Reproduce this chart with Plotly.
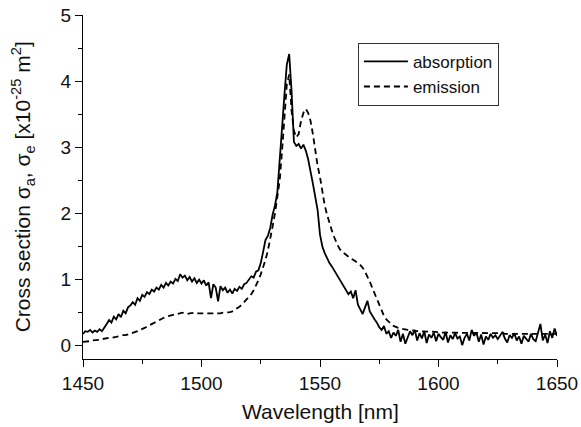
import plotly.graph_objects as go

wavelength = list(range(1450, 1651))

absorption = [
    0.18, 0.22, 0.21, 0.24, 0.20, 0.23, 0.21, 0.25, 0.22, 0.27,
    0.33, 0.39, 0.35, 0.44, 0.40, 0.48, 0.43, 0.53, 0.49, 0.58,
    0.61, 0.66, 0.62, 0.72, 0.68, 0.77, 0.74, 0.81, 0.78, 0.85,
    0.82, 0.88, 0.85, 0.92, 0.88, 0.95, 0.91, 0.97, 0.94, 1.01,
    0.98, 1.08, 1.03, 1.06, 0.99, 1.04, 0.97, 1.02, 0.95, 1.00,
    0.94, 0.99, 0.91, 0.96, 0.72, 0.93, 0.88, 0.67, 0.90, 0.84,
    0.88, 0.80, 0.85, 0.79, 0.86, 0.83, 0.89, 0.86, 0.93, 0.95,
    1.00, 1.05, 1.03, 1.12, 1.14, 1.25, 1.42, 1.60, 1.66, 1.78,
    1.98, 2.12, 2.32, 2.75, 3.30, 3.80, 4.25, 4.41, 3.85, 3.08,
    3.02, 3.05, 2.98, 3.04, 2.95, 2.82, 2.65, 2.45, 2.25, 2.05,
    1.68, 1.50, 1.40, 1.32, 1.25, 1.20, 1.14, 1.09, 1.03, 0.97,
    0.92, 0.86, 0.78, 0.82, 0.72, 0.84, 0.62, 0.55, 0.48, 0.58,
    0.68, 0.52, 0.45, 0.40, 0.35, 0.28, 0.24, 0.30, 0.18, 0.22,
    0.12, 0.20, 0.15, 0.24, 0.06, 0.18, 0.03, 0.14, 0.22, 0.16,
    0.24, 0.08, 0.19, 0.11, 0.22, 0.04, 0.17, 0.12, 0.20, 0.07,
    0.18, 0.13, 0.09, 0.21, 0.05, 0.16, 0.10, 0.19, 0.11, 0.14,
    0.01, 0.12, 0.18, 0.08, 0.24, 0.15, 0.20, 0.06, 0.17, 0.02,
    0.14, 0.09, 0.18, 0.12, 0.16, 0.10, 0.15, 0.21, 0.11, 0.05,
    0.16, 0.12, 0.19, 0.08, 0.14, 0.03, 0.15, 0.11, 0.06, 0.18,
    0.10, 0.07, 0.21, 0.33, 0.08, 0.17, 0.04, 0.22, 0.12, 0.26,
    0.15,
]

emission = [
    0.06, 0.06, 0.07, 0.07, 0.08, 0.08, 0.09, 0.09, 0.10, 0.11,
    0.11, 0.12, 0.12, 0.13, 0.14, 0.14, 0.15, 0.16, 0.16, 0.17,
    0.18, 0.19, 0.21, 0.22, 0.24, 0.25, 0.27, 0.29, 0.31, 0.33,
    0.35, 0.37, 0.39, 0.41, 0.42, 0.44, 0.45, 0.46, 0.47, 0.48,
    0.49, 0.50, 0.50, 0.49, 0.48, 0.49, 0.50, 0.50, 0.49, 0.49,
    0.49, 0.49, 0.48, 0.48, 0.48, 0.49, 0.49, 0.49, 0.49, 0.50,
    0.50, 0.50, 0.51, 0.52, 0.54, 0.56, 0.59, 0.62, 0.66, 0.70,
    0.74, 0.78, 0.84, 0.91, 0.99, 1.08, 1.18, 1.30, 1.44, 1.60,
    1.80, 2.00, 2.22, 2.50, 2.95, 3.50, 3.95, 4.10, 3.55, 3.25,
    3.15, 3.20, 3.40, 3.52, 3.58, 3.52, 3.40, 3.20, 2.92, 2.72,
    2.55, 2.30, 2.12, 1.98, 1.84, 1.74, 1.64, 1.56, 1.48, 1.43,
    1.40, 1.37, 1.34, 1.32, 1.30, 1.28, 1.25, 1.22, 1.18, 1.12,
    1.05, 0.97, 0.88, 0.79, 0.70, 0.61, 0.53, 0.45, 0.40, 0.36,
    0.33, 0.30, 0.28, 0.27, 0.26, 0.25, 0.25, 0.24, 0.24, 0.23,
    0.23, 0.22, 0.22, 0.22, 0.22, 0.21, 0.21, 0.21, 0.21, 0.21,
    0.20, 0.20, 0.20, 0.20, 0.20, 0.20, 0.20, 0.20, 0.20, 0.20,
    0.20, 0.20, 0.20, 0.20, 0.19, 0.19, 0.19, 0.19, 0.19, 0.19,
    0.19, 0.19, 0.19, 0.19, 0.19, 0.19, 0.19, 0.19, 0.18, 0.18,
    0.18, 0.18, 0.18, 0.18, 0.18, 0.18, 0.18, 0.18, 0.18, 0.18,
    0.18, 0.18, 0.18, 0.18, 0.18, 0.18, 0.18, 0.18, 0.18, 0.18,
    0.18,
]

x_ticks = [1450, 1500, 1550, 1600, 1650]
y_ticks = [0, 1, 2, 3, 4, 5]
x_title = "Wavelength [nm]"
y_title = "Cross section σ<sub>a</sub>, σ<sub>e</sub> [x10<sup>-25</sup> m<sup>2</sup>]"

font_family = "Liberation Sans, Arial, sans-serif"

fig = go.Figure()
fig.add_trace(go.Scatter(
    x=wavelength, y=absorption, mode="lines", name="absorption",
    line=dict(color="black", width=1.8),
))
fig.add_trace(go.Scatter(
    x=wavelength, y=emission, mode="lines", name="emission",
    line=dict(color="black", width=1.8, dash="6px,4px"),
))

axis_common = dict(
    showline=True, linecolor="black", linewidth=1.3,
    ticks="outside", ticklen=7, tickwidth=1.3, tickcolor="black",
    showgrid=False, zeroline=False, automargin=False,
    tickfont=dict(family=font_family, size=19, color="#111111"),
    minor=dict(ticks="outside", ticklen=4, tickwidth=1.3, tickcolor="black", showgrid=False),
)

fig.update_xaxes(
    range=[1450, 1650], tickvals=x_ticks, ticktext=[str(v) for v in x_ticks],
    minor_dtick=25, minor_tick0=1450,
    **axis_common,
)
fig.update_yaxes(
    range=[-0.2, 5], tickvals=y_ticks, ticktext=[str(v) for v in y_ticks],
    minor_dtick=0.5, minor_tick0=0,
    **axis_common,
)

fig.add_annotation(
    text=x_title, xref="paper", yref="paper", x=0.5, y=-0.154,
    xanchor="center", yanchor="middle", showarrow=False,
    font=dict(family=font_family, size=21, color="#111111"),
)
fig.add_annotation(
    text=y_title, xref="paper", yref="paper", x=-0.128, y=0.5,
    xanchor="center", yanchor="middle", showarrow=False, textangle=-90,
    font=dict(family=font_family, size=21, color="#111111"),
)

fig.update_layout(
    width=581, height=427,
    margin=dict(l=83, r=24, t=15, b=68),
    paper_bgcolor="white", plot_bgcolor="white",
    showlegend=True,
    legend=dict(
        x=0.58, y=0.919, xanchor="left", yanchor="top",
        bordercolor="#333333", borderwidth=1, bgcolor="white",
        font=dict(family=font_family, size=17, color="#111111"),
        tracegroupgap=0, itemwidth=44,
    ),
)

fig.write_html(
    "out.html",
    config={"displayModeBar": False},
    post_script="document.body.style.margin='0';document.body.style.overflow='hidden';",
)
